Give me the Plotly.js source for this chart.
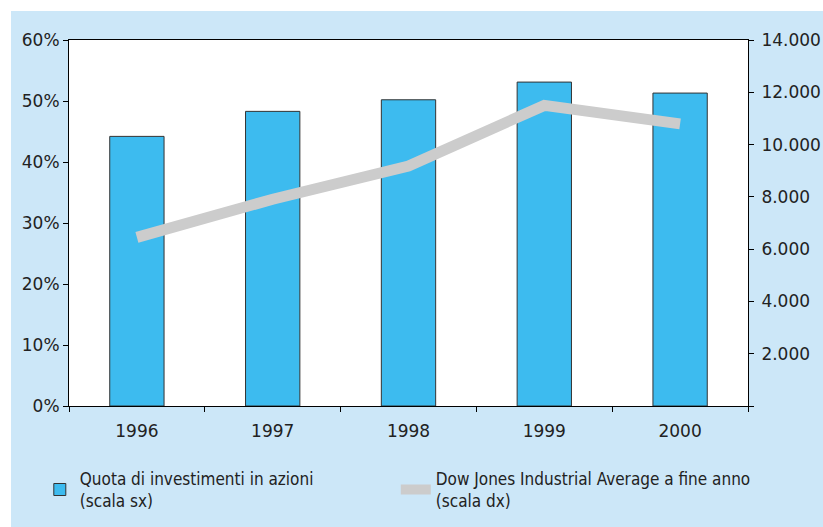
<!DOCTYPE html>
<html>
<head>
<meta charset="utf-8">
<script src="https://cdn.plot.ly/plotly-3.0.1.min.js"></script>
<style>
  html, body { margin: 0; padding: 0; background: #ffffff; }
  #chart { position: absolute; left: 11px; top: 11px; width: 812px; height: 516px; }
</style>
</head>
<body>
<div id="chart"></div>
<script>
// Data
const years = ['1996', '1997', '1998', '1999', '2000'];
const equityShare = [44.2, 48.3, 50.2, 53.1, 51.3];      // % (left scale)
const dowJones = [6450, 7910, 9180, 11500, 10790];        // year-end close (right scale)

const leftTickVals = [0, 10, 20, 30, 40, 50, 60];
const leftTickText = ['0%', '10%', '20%', '30%', '40%', '50%', '60%'];
const rightTickVals = [0, 2000, 4000, 6000, 8000, 10000, 12000, 14000];
const rightTickText = ['', '2.000', '4.000', '6.000', '8.000', '10.000', '12.000', '14.000'];

const tickFont = { family: 'DejaVu Sans, sans-serif', size: 17, color: '#222222' };

const traces = [
    {
        x: years,
        y: equityShare,
        type: 'bar',
        name: 'Quota di investimenti in azioni<br>(scala sx)',
        width: 0.4,
        marker: { color: '#3dbbef', line: { color: '#333333', width: 1 } },
        yaxis: 'y'
    },
    {
        x: years,
        y: dowJones,
        type: 'scatter',
        mode: 'lines',
        name: 'Dow Jones Industrial Average a fine anno<br>(scala dx)',
        line: { color: '#cccccc', width: 11 },
        yaxis: 'y2'
    }
];

const layout = {
    width: 812,
    height: 516,
    margin: { l: 58, r: 75, t: 29, b: 121, autoexpand: false },
    paper_bgcolor: '#cce7f8',
    plot_bgcolor: '#ffffff',
    showlegend: true,
    font: tickFont,
    xaxis: {
        type: 'category',
        showline: true,
        mirror: true,
        linecolor: '#000000',
        linewidth: 1,
        ticks: 'outside',
        tickson: 'boundaries',
        ticklen: 5,
        tickcolor: '#000000',
        ticklabelstandoff: 10,
        showgrid: false,
        tickfont: tickFont
    },
    yaxis: {
        range: [0, 60],
        tickvals: leftTickVals,
        ticktext: leftTickText,
        showline: true,
        linecolor: '#000000',
        ticks: 'outside',
        ticklen: 5,
        tickcolor: '#000000',
        showgrid: false,
        zeroline: false,
        tickfont: tickFont
    },
    yaxis2: {
        overlaying: 'y',
        side: 'right',
        range: [0, 14000],
        tickvals: rightTickVals,
        ticktext: rightTickText,
        showline: true,
        linecolor: '#000000',
        ticks: 'outside',
        ticklen: 5,
        tickcolor: '#000000',
        ticklabelstandoff: 4,
        showgrid: false,
        zeroline: false,
        tickfont: tickFont
    },
    legend: {
        orientation: 'h',
        x: -0.043,
        xanchor: 'left',
        y: -0.15,
        yanchor: 'top',
        entrywidth: 311,
        entrywidthmode: 'pixels',
        bgcolor: 'rgba(0,0,0,0)',
        font: { family: 'DejaVu Sans Condensed, DejaVu Sans, sans-serif', size: 17, color: '#222222' }
    }
};

Plotly.newPlot('chart', traces, layout, { displayModeBar: false, staticPlot: true });
</script>
</body>
</html>
